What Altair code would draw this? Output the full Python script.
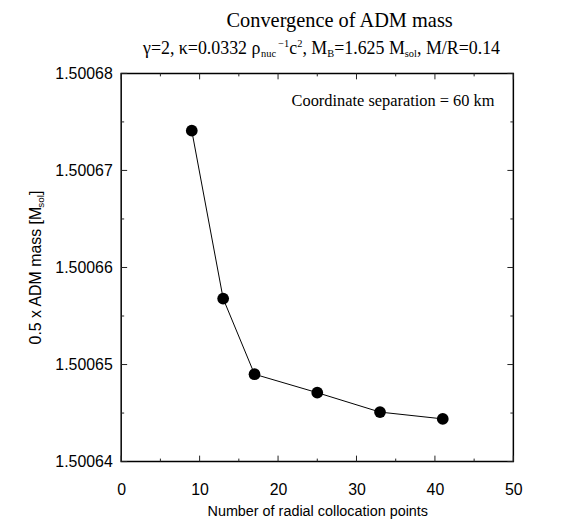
import altair as alt
import pandas as pd

# ---- data ----
points_n = [9, 13, 17, 25, 33, 41]
adm_mass = [1.5006741, 1.5006568, 1.5006490, 1.5006471, 1.5006451, 1.5006444]

x_ticks_major = [0, 10, 20, 30, 40, 50]
x_ticks_minor = [5, 15, 25, 35, 45]
y_ticks_major = [1.50064, 1.50065, 1.50066, 1.50067, 1.50068]
y_ticks_minor = [1.500645, 1.500655, 1.500665, 1.500675]

title_text = "Convergence of ADM mass"
x_title = "Number of radial collocation points"
annotation_text = "Coordinate separation = 60 km"
subtitle_parts = [("γ=2, κ=0.0332 ρ", "n"), ("nuc", "sub"), ("−1", "sup"), ("c", "n"),
                  ("2", "sup"), (", M", "n"), ("B", "sub"), ("=1.625 M", "n"),
                  ("sol", "sub"), (", M/R=0.14", "n")]
ytitle_parts = [("0.5 x ADM mass [M", "n"), ("sol", "sub"), ("]", "n")]

# ---- layout ----
W, H = 395, 391
SERIF = "Liberation Serif"
SANS = "Liberation Sans"

serif_w = {' ': 250, ',': 250, '.': 250, '=': 564, '/': 278, 'M': 889, 'B': 667, 'R': 667,
           'c': 444, 'n': 500, 'u': 500, 's': 389, 'o': 500, 'l': 278, '−': 564,
           'γ': 460, 'κ': 520, 'ρ': 500}
sans_w = {' ': 278, '.': 278, 'x': 500, 'A': 667, 'D': 722, 'M': 833, 'm': 833, 'a': 556,
          's': 500, '[': 278, ']': 278, 'o': 556, 'l': 222}


def text_width(s, size, table):
    return sum(table.get(ch, 500) for ch in s) * size / 1000.0


xs = alt.Scale(domain=[0, 50], nice=False, zero=False)
ys = alt.Scale(domain=[1.50064, 1.50068], nice=False, zero=False)

x_axis = alt.Axis(values=x_ticks_major, format="d", ticks=False, tickSize=0, domain=False,
                  grid=False, labelFlush=False, labelPadding=20, labelFontSize=16,
                  labelFont=SANS, labelColor="black", title=x_title, titleFont=SANS,
                  titleFontSize=14.5, titleFontWeight="normal", titleColor="black",
                  titlePadding=7)
y_axis = alt.Axis(values=y_ticks_major, format=".5f", ticks=False, tickSize=0, domain=False,
                  grid=False, labelFlush=False, labelPadding=9, labelFontSize=16,
                  labelFont=SANS, labelColor="black", title=None)


def xenc():
    return alt.X("n:Q", scale=xs, axis=x_axis)


def yenc():
    return alt.Y("m:Q", scale=ys, axis=y_axis)


df = pd.DataFrame({"n": points_n, "m": adm_mass})

line = alt.Chart(df).mark_line(color="black", strokeWidth=1).encode(x=xenc(), y=yenc())
dots = alt.Chart(df).mark_circle(size=140, color="black", opacity=1).encode(x=xenc(), y=yenc())

layers = []
TC = "#222222"
for vals, ln in ((x_ticks_major, 6), (x_ticks_minor, 3)):
    d = pd.DataFrame({"n": vals})
    layers.append(alt.Chart(d).mark_rule(color=TC, strokeWidth=1).encode(
        x=xenc(), y=alt.value(H), y2=alt.value(H - ln)))
    layers.append(alt.Chart(d).mark_rule(color=TC, strokeWidth=1).encode(
        x=xenc(), y=alt.value(0), y2=alt.value(ln)))
for vals, ln in ((y_ticks_major, 6), (y_ticks_minor, 3)):
    d = pd.DataFrame({"m": vals})
    layers.append(alt.Chart(d).mark_rule(color=TC, strokeWidth=1).encode(
        y=yenc(), x=alt.value(0), x2=alt.value(ln)))
    layers.append(alt.Chart(d).mark_rule(color=TC, strokeWidth=1).encode(
        y=yenc(), x=alt.value(W), x2=alt.value(W - ln)))


def txt(s, x, y, size, font, align="left", angle=0):
    kw = dict(align=align, baseline="alphabetic", font=font, fontSize=size, color="black")
    if angle:
        kw["angle"] = angle
    return alt.Chart(pd.DataFrame({"t": [s]})).mark_text(**kw).encode(
        x=alt.value(x), y=alt.value(y), text="t:N")


texts = []
# title
texts.append(txt(title_text, 220, -47, 20.5, SERIF, align="center"))
# subtitle
main_size, small_size = 18, 10.5
cx = 22.0
base = -20
for s, kind in subtitle_parts:
    if kind == "n":
        texts.append(txt(s, cx, base, main_size, SERIF))
        cx += text_width(s, main_size, serif_w)
    elif kind == "sub":
        texts.append(txt(s, cx, base + 4, small_size, SERIF))
        cx += text_width(s, small_size, serif_w)
    else:
        if s == "−1":
            cx += 2
        texts.append(txt(s, cx, base - 7, small_size, SERIF))
        cx += text_width(s, small_size, serif_w)
# annotation inside plot
texts.append(txt(annotation_text, 376, 33, 16.5, SERIF, align="right"))
# y-axis title (rotated)
cy = 273.0
bx = -81
for s, kind in ytitle_parts:
    size = 16 if kind == "n" else 10
    xx = bx if kind == "n" else bx + 3
    texts.append(txt(s, xx, cy, size, SANS, angle=270))
    cy -= text_width(s, size, sans_w)

chart = alt.layer(*layers, line, dots, *texts).properties(
    width=W, height=H,
    autosize=alt.AutoSizeParams(type="none"),
    padding={"left": 114, "top": 64, "right": 50, "bottom": 60},
    background="white",
).configure_view(stroke="black", strokeWidth=1.5)

chart.save("out.html", embed_options={"renderer": "svg", "actions": False})
